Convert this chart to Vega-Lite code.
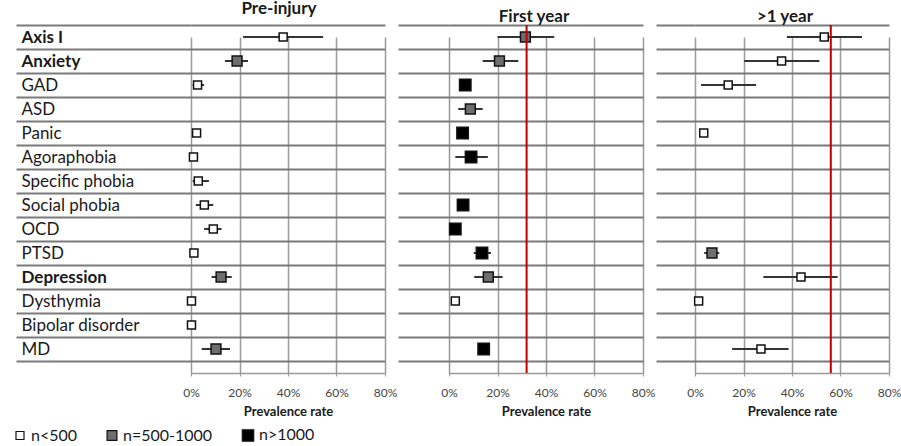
{
  "$schema": "https://vega.github.io/schema/vega-lite/v6.json",
  "autosize": {"type": "pad"},
  "padding": {"left": 12, "top": 0, "right": 2, "bottom": 0},
  "background": "white",
  "config": {
    "font": "Lato",
    "view": {"stroke": null},
    "concat": {"spacing": 0},
    "legend": {"orient": "none", "legendX": -179, "legendY": 402, "direction": "horizontal", "title": null, "labelFontSize": 16, "labelColor": "#1a1a1a", "columnPadding": 26, "symbolStrokeColor": "#111111", "symbolStrokeWidth": 1.2, "labelOffset": 3, "padding": 0},
    "axisX": {"values": [0, 0.2, 0.4, 0.6, 0.8], "format": ".0%", "grid": true, "gridColor": "#9a9a9a", "gridWidth": 1.5, "domainColor": "#9a9a9a", "domainWidth": 1.5, "tickColor": "#9a9a9a", "tickSize": 3, "labelFontSize": 12, "labelColor": "#444444", "labelPadding": 11, "labelFlush": false, "titleFontSize": 13, "titleFontWeight": "bold", "titleColor": "#1a1a1a", "titlePadding": 7}
  },
  "datasets": {
    "d": [
      {"panel": "Pre-injury", "row": "Axis I", "val": 0.38, "lo": 0.215, "hi": 0.545, "n": "n<500"},
      {"panel": "Pre-injury", "row": "Anxiety", "val": 0.19, "lo": 0.14, "hi": 0.235, "n": "n=500-1000"},
      {"panel": "Pre-injury", "row": "GAD", "val": 0.027, "lo": 0.007, "hi": 0.054, "n": "n<500"},
      {"panel": "Pre-injury", "row": "Panic", "val": 0.023, "lo": 0.013, "hi": 0.033, "n": "n<500"},
      {"panel": "Pre-injury", "row": "Agoraphobia", "val": 0.01, "lo": 0.003, "hi": 0.02, "n": "n<500"},
      {"panel": "Pre-injury", "row": "Specific phobia", "val": 0.03, "lo": 0.007, "hi": 0.074, "n": "n<500"},
      {"panel": "Pre-injury", "row": "Social phobia", "val": 0.055, "lo": 0.02, "hi": 0.092, "n": "n<500"},
      {"panel": "Pre-injury", "row": "OCD", "val": 0.092, "lo": 0.054, "hi": 0.126, "n": "n<500"},
      {"panel": "Pre-injury", "row": "PTSD", "val": 0.012, "lo": 0.008, "hi": 0.016, "n": "n<500"},
      {"panel": "Pre-injury", "row": "Depression", "val": 0.124, "lo": 0.085, "hi": 0.168, "n": "n=500-1000"},
      {"panel": "Pre-injury", "row": "Dysthymia", "val": 0.002, "lo": 0.0, "hi": 0.004, "n": "n<500"},
      {"panel": "Pre-injury", "row": "Bipolar disorder", "val": 0.002, "lo": 0.0, "hi": 0.004, "n": "n<500"},
      {"panel": "Pre-injury", "row": "MD", "val": 0.103, "lo": 0.044, "hi": 0.161, "n": "n=500-1000"},
      {"panel": "First year", "row": "Axis I", "val": 0.315, "lo": 0.2, "hi": 0.434, "n": "n=500-1000"},
      {"panel": "First year", "row": "Anxiety", "val": 0.208, "lo": 0.139, "hi": 0.286, "n": "n=500-1000"},
      {"panel": "First year", "row": "GAD", "val": 0.067, "lo": 0.06, "hi": 0.075, "n": "n>1000"},
      {"panel": "First year", "row": "ASD", "val": 0.088, "lo": 0.038, "hi": 0.139, "n": "n=500-1000"},
      {"panel": "First year", "row": "Panic", "val": 0.056, "lo": 0.052, "hi": 0.06, "n": "n>1000"},
      {"panel": "First year", "row": "Agoraphobia", "val": 0.091, "lo": 0.026, "hi": 0.16, "n": "n>1000"},
      {"panel": "First year", "row": "Social phobia", "val": 0.058, "lo": 0.054, "hi": 0.062, "n": "n>1000"},
      {"panel": "First year", "row": "OCD", "val": 0.026, "lo": 0.022, "hi": 0.03, "n": "n>1000"},
      {"panel": "First year", "row": "PTSD", "val": 0.136, "lo": 0.102, "hi": 0.173, "n": "n>1000"},
      {"panel": "First year", "row": "Depression", "val": 0.162, "lo": 0.104, "hi": 0.221, "n": "n=500-1000"},
      {"panel": "First year", "row": "Dysthymia", "val": 0.026, "lo": 0.022, "hi": 0.03, "n": "n<500"},
      {"panel": "First year", "row": "MD", "val": 0.143, "lo": 0.13, "hi": 0.155, "n": "n>1000"},
      {"panel": ">1 year", "row": "Axis I", "val": 0.533, "lo": 0.379, "hi": 0.689, "n": "n<500"},
      {"panel": ">1 year", "row": "Anxiety", "val": 0.357, "lo": 0.203, "hi": 0.513, "n": "n<500"},
      {"panel": ">1 year", "row": "GAD", "val": 0.137, "lo": 0.025, "hi": 0.252, "n": "n<500"},
      {"panel": ">1 year", "row": "Panic", "val": 0.036, "lo": 0.032, "hi": 0.04, "n": "n<500"},
      {"panel": ">1 year", "row": "PTSD", "val": 0.07, "lo": 0.038, "hi": 0.1, "n": "n=500-1000"},
      {"panel": ">1 year", "row": "Depression", "val": 0.437, "lo": 0.282, "hi": 0.588, "n": "n<500"},
      {"panel": ">1 year", "row": "Dysthymia", "val": 0.015, "lo": 0.011, "hi": 0.019, "n": "n<500"},
      {"panel": ">1 year", "row": "MD", "val": 0.272, "lo": 0.153, "hi": 0.386, "n": "n<500"}
    ],
    "refs": [
      {"panel": "First year", "ref": 0.32},
      {"panel": ">1 year", "ref": 0.56}
    ]
  },
  "hconcat": [
    {
      "width": 194,
      "height": 348,
      "title": {"text": "Pre-injury", "fontSize": 17, "fontWeight": "bold", "color": "#1a1a1a", "dx": -9, "offset": -2},
      "data": {"name": "d"},
      "transform": [{"filter": "datum.panel === 'Pre-injury'"}],
      "layer": [
        {
          "mark": {"type": "rule", "color": "#333333", "strokeWidth": 2},
          "encoding": {
            "y": {
              "field": "row", "type": "nominal",
              "scale": {"domain": ["Axis I", "Anxiety", "GAD", "ASD", "Panic", "Agoraphobia", "Specific phobia", "Social phobia", "OCD", "PTSD", "Depression", "Dysthymia", "Bipolar disorder", "MD"], "range": [0, 336], "paddingInner": 0, "paddingOuter": 0},
              "axis": {
                "title": null, "domain": false, "tickBand": "extent", "tickSize": 175, "tickColor": "#7a7a7a", "tickWidth": 1.8,
                "grid": true, "gridColor": "#7a7a7a", "gridWidth": 1.8,
                "labelAlign": "left", "labelPadding": -5, "labelFontSize": 17, "labelColor": "#1a1a1a", "labelFont": "Lato",
                "labelFontWeight": {"condition": {"test": "indexof(['Axis I','Anxiety','Depression'], datum.value) >= 0", "value": "bold"}, "value": "normal"}
              }
            },
            "x": {"field": "lo", "type": "quantitative", "scale": {"domain": [0, 0.8]}, "axis": {"title": "Prevalence rate"}},
            "x2": {"field": "hi"}
          }
        },
        {
          "mark": {"type": "point", "shape": "square", "filled": true, "stroke": "#111111", "strokeWidth": 1.5, "opacity": 1},
          "encoding": {
            "y": {"field": "row", "type": "nominal"},
            "x": {"field": "val", "type": "quantitative"},
            "color": {"field": "n", "type": "nominal", "scale": {"domain": ["n<500", "n=500-1000", "n>1000"], "range": ["#ffffff", "#6e6e6e", "#000000"]}},
            "size": {"field": "n", "type": "nominal", "scale": {"domain": ["n<500", "n=500-1000", "n>1000"], "range": [64, 130, 196]}}
          }
        }
      ]
    },
    {
      "width": 194,
      "height": 348,
      "title": {"text": "First year", "fontSize": 17, "fontWeight": "bold", "color": "#1a1a1a", "dx": -12, "offset": -2},
      "layer": [
        {
          "data": {"name": "d"},
          "transform": [{"filter": "datum.panel === 'First year'"}],
          "mark": {"type": "rule", "color": "#333333", "strokeWidth": 2},
          "encoding": {
            "y": {
              "field": "row", "type": "nominal",
              "scale": {"domain": ["Axis I", "Anxiety", "GAD", "ASD", "Panic", "Agoraphobia", "Specific phobia", "Social phobia", "OCD", "PTSD", "Depression", "Dysthymia", "Bipolar disorder", "MD"], "range": [0, 336], "paddingInner": 0, "paddingOuter": 0},
              "axis": {"title": null, "domain": false, "labels": false, "tickBand": "extent", "tickSize": 51, "tickColor": "#7a7a7a", "tickWidth": 1.8, "grid": true, "gridColor": "#7a7a7a", "gridWidth": 1.8}
            },
            "x": {"field": "lo", "type": "quantitative", "scale": {"domain": [0, 0.8]}, "axis": {"title": "Prevalence rate"}},
            "x2": {"field": "hi"}
          }
        },
        {
          "data": {"name": "d"},
          "transform": [{"filter": "datum.panel === 'First year'"}],
          "mark": {"type": "point", "shape": "square", "filled": true, "stroke": "#111111", "strokeWidth": 1.5, "opacity": 1},
          "encoding": {
            "y": {"field": "row", "type": "nominal"},
            "x": {"field": "val", "type": "quantitative"},
            "color": {"field": "n", "type": "nominal", "scale": {"domain": ["n<500", "n=500-1000", "n>1000"], "range": ["#ffffff", "#6e6e6e", "#000000"]}},
            "size": {"field": "n", "type": "nominal", "scale": {"domain": ["n<500", "n=500-1000", "n>1000"], "range": [64, 130, 196]}}
          }
        },
        {
          "data": {"name": "refs"},
          "transform": [{"filter": "datum.panel === 'First year'"}],
          "mark": {"type": "rule", "color": "#c00000", "strokeWidth": 2},
          "encoding": {"x": {"field": "ref", "type": "quantitative"}}
        }
      ]
    },
    {
      "width": 194,
      "height": 348,
      "title": {"text": ">1 year", "fontSize": 17, "fontWeight": "bold", "color": "#1a1a1a", "dx": -7, "offset": -2},
      "layer": [
        {
          "data": {"name": "d"},
          "transform": [{"filter": "datum.panel === '>1 year'"}],
          "mark": {"type": "rule", "color": "#333333", "strokeWidth": 2},
          "encoding": {
            "y": {
              "field": "row", "type": "nominal",
              "scale": {"domain": ["Axis I", "Anxiety", "GAD", "ASD", "Panic", "Agoraphobia", "Specific phobia", "Social phobia", "OCD", "PTSD", "Depression", "Dysthymia", "Bipolar disorder", "MD"], "range": [0, 336], "paddingInner": 0, "paddingOuter": 0},
              "axis": {"title": null, "domain": false, "labels": false, "tickBand": "extent", "tickSize": 39, "tickColor": "#7a7a7a", "tickWidth": 1.8, "grid": true, "gridColor": "#7a7a7a", "gridWidth": 1.8}
            },
            "x": {"field": "lo", "type": "quantitative", "scale": {"domain": [0, 0.8]}, "axis": {"title": "Prevalence rate"}},
            "x2": {"field": "hi"}
          }
        },
        {
          "data": {"name": "d"},
          "transform": [{"filter": "datum.panel === '>1 year'"}],
          "mark": {"type": "point", "shape": "square", "filled": true, "stroke": "#111111", "strokeWidth": 1.5, "opacity": 1},
          "encoding": {
            "y": {"field": "row", "type": "nominal"},
            "x": {"field": "val", "type": "quantitative"},
            "color": {"field": "n", "type": "nominal", "scale": {"domain": ["n<500", "n=500-1000", "n>1000"], "range": ["#ffffff", "#6e6e6e", "#000000"]}},
            "size": {"field": "n", "type": "nominal", "scale": {"domain": ["n<500", "n=500-1000", "n>1000"], "range": [64, 130, 196]}}
          }
        },
        {
          "data": {"name": "refs"},
          "transform": [{"filter": "datum.panel === '>1 year'"}],
          "mark": {"type": "rule", "color": "#c00000", "strokeWidth": 2},
          "encoding": {"x": {"field": "ref", "type": "quantitative"}}
        }
      ]
    }
  ]
}
